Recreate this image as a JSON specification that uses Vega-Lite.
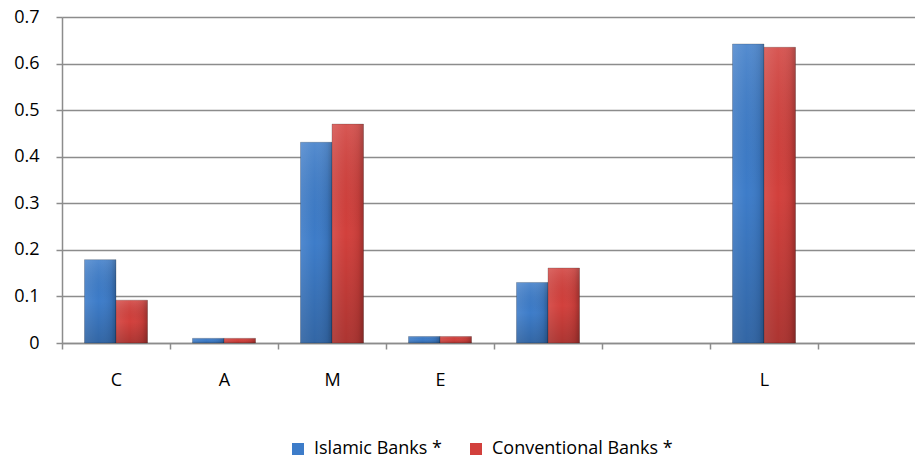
{
  "$schema": "https://vega.github.io/schema/vega-lite/v6.json",
  "autosize": {"type": "none"},
  "padding": {"left": 62, "top": 17, "right": 0, "bottom": 117},
  "width": 853,
  "height": 326,
  "background": "white",
  "data": {
    "values": [
      {"factor": "C", "group": "Islamic Banks *", "value": 0.179},
      {"factor": "C", "group": "Conventional Banks *", "value": 0.092},
      {"factor": "A", "group": "Islamic Banks *", "value": 0.010},
      {"factor": "A", "group": "Conventional Banks *", "value": 0.010},
      {"factor": "M", "group": "Islamic Banks *", "value": 0.431},
      {"factor": "M", "group": "Conventional Banks *", "value": 0.470},
      {"factor": "E", "group": "Islamic Banks *", "value": 0.014},
      {"factor": "E", "group": "Conventional Banks *", "value": 0.014},
      {"factor": " ", "group": "Islamic Banks *", "value": 0.130},
      {"factor": " ", "group": "Conventional Banks *", "value": 0.161},
      {"factor": "L", "group": "Islamic Banks *", "value": 0.642},
      {"factor": "L", "group": "Conventional Banks *", "value": 0.635}
    ]
  },
  "encoding": {
    "x": {
      "field": "factor",
      "type": "nominal",
      "sort": null,
      "scale": {
        "domain": ["C", "A", "M", "E", " ", "  ", "L", "   "],
        "range": [0, 864],
        "paddingInner": 0,
        "paddingOuter": 0
      },
      "axis": {
        "title": null,
        "labelAngle": 0,
        "tickBand": "extent",
        "grid": false,
        "domainColor": "#8c8c8c",
        "domainWidth": 1.5,
        "tickColor": "#8c8c8c",
        "tickWidth": 1.5,
        "tickSize": 6,
        "labelPadding": 22,
        "labelFont": "Open Sans",
        "labelFontSize": 18,
        "labelColor": "#000000"
      }
    },
    "xOffset": {
      "field": "group",
      "type": "nominal",
      "sort": ["Islamic Banks *", "Conventional Banks *"],
      "scale": {"paddingInner": 0, "paddingOuter": 0.714}
    },
    "y": {
      "field": "value",
      "type": "quantitative",
      "scale": {"domain": [0, 0.7], "nice": false},
      "axis": {
        "title": null,
        "values": [0, 0.1, 0.2, 0.3, 0.4, 0.5, 0.6, 0.7],
        "format": "~g",
        "grid": true,
        "gridColor": "#8c8c8c",
        "gridWidth": 1.5,
        "domainColor": "#8c8c8c",
        "domainWidth": 1.5,
        "tickColor": "#8c8c8c",
        "tickWidth": 1.5,
        "tickSize": 6,
        "labelPadding": 17,
        "labelFont": "Open Sans",
        "labelFontSize": 18,
        "labelColor": "#000000"
      }
    }
  },
  "layer": [
    {
      "mark": {"type": "bar", "stroke": "#000000", "strokeOpacity": 0.3, "strokeWidth": 0.7},
      "encoding": {
        "color": {
          "field": "group",
          "type": "nominal",
          "sort": ["Islamic Banks *", "Conventional Banks *"],
          "scale": {"range": ["#3d7cc9", "#d2403c"]},
          "legend": {
            "title": null,
            "orient": "none",
            "direction": "horizontal",
            "legendX": 227,
            "legendY": 423,
            "symbolType": "square",
            "symbolSize": 144,
            "symbolStrokeWidth": 0,
            "symbolOpacity": 1,
            "labelFont": "Open Sans",
            "labelFontSize": 18,
            "labelColor": "#000000",
            "labelLimit": 400,
            "labelOffset": 7,
            "columnPadding": 25
          }
        }
      }
    },
    {
      "mark": {
        "type": "bar",
        "fill": {
          "gradient": "linear",
          "x1": 0, "y1": 0, "x2": 1, "y2": 0,
          "stops": [
            {"offset": 0, "color": "rgba(255,255,255,0.10)"},
            {"offset": 0.45, "color": "rgba(255,255,255,0.0)"},
            {"offset": 0.85, "color": "rgba(0,0,0,0.08)"},
            {"offset": 1, "color": "rgba(0,0,0,0.25)"}
          ]
        }
      }
    },
    {
      "mark": {
        "type": "bar",
        "fill": {
          "gradient": "linear",
          "x1": 0, "y1": 0, "x2": 0, "y2": 1,
          "stops": [
            {"offset": 0, "color": "rgba(255,255,255,0.12)"},
            {"offset": 0.5, "color": "rgba(0,0,0,0.0)"},
            {"offset": 1, "color": "rgba(0,0,0,0.18)"}
          ]
        }
      }
    }
  ]
}
